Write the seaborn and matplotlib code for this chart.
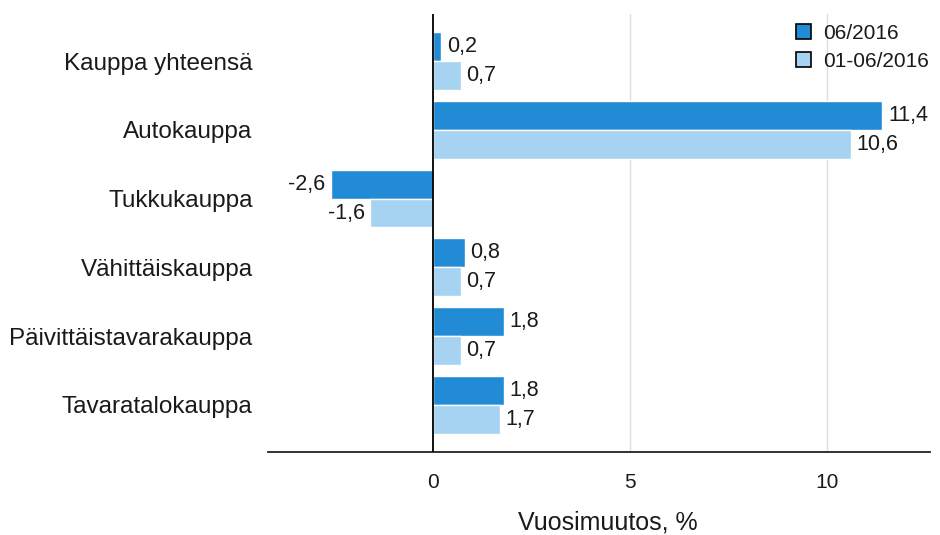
import matplotlib
matplotlib.use("Agg")
import matplotlib.pyplot as plt
import seaborn as sns
import pandas as pd
from matplotlib.patches import Patch

categories = ["Kauppa yhteensä", "Autokauppa", "Tukkukauppa", "Vähittäiskauppa",
              "Päivittäistavarakauppa", "Tavaratalokauppa"]
series_names = ["06/2016", "01-06/2016"]
values_month = [0.2, 11.4, -2.6, 0.8, 1.8, 1.8]
values_ytd = [0.7, 10.6, -1.6, 0.7, 0.7, 1.7]
colors = ["#218bd6", "#a6d3f1"]

sns.set_theme(style="white")
plt.rcParams["font.family"] = ["Liberation Sans", "DejaVu Sans"]

df = pd.DataFrame({
    "cat": categories * 2,
    "value": values_month + values_ytd,
    "series": [series_names[0]] * len(categories) + [series_names[1]] * len(categories),
})

fig = plt.figure(figsize=(9.4, 5.35), dpi=100)
ax = fig.add_axes([0.285, 0.155, 0.704, 0.819])

sns.barplot(data=df, y="cat", x="value", hue="series", palette=colors,
            orient="h", width=0.84, gap=0, ax=ax, legend=False, saturation=1)

txt = "#1a1a1a"
for cont, vals in zip(ax.containers, [values_month, values_ytd]):
    for bar, v in zip(cont, vals):
        lab = f"{v:.1f}".replace(".", ",")
        y = bar.get_y() + bar.get_height() / 2
        ax.annotate(lab, (v, y), xytext=(4 if v >= 0 else -4, 0), textcoords="offset points",
                    ha="left" if v >= 0 else "right", va="center", fontsize=15.5, color=txt)

ax.set_xlim(-4.2, 12.6)
ax.set_ylim(5.69, -0.69)
ax.set_xticks([0, 5, 10])
ax.set_xticklabels(["0", "5", "10"], fontsize=15)
ax.tick_params(axis="x", length=0, pad=15, colors=txt)
ax.tick_params(axis="y", length=0, pad=11, labelsize=17.5, colors=txt)
ax.set_ylabel("")
ax.set_xlabel("Vuosimuutos, %", fontsize=18, color=txt)
ax.xaxis.set_label_coords(0.514, -0.133)

for x in [5, 10]:
    ax.axvline(x, color="#dddddd", lw=1, zorder=0)
ax.axvline(0, color="black", lw=1.3, zorder=3)

for s in ["top", "right", "left"]:
    ax.spines[s].set_visible(False)
ax.spines["bottom"].set_color("#222222")
ax.spines["bottom"].set_linewidth(1.3)

handles = [Patch(facecolor=c, edgecolor="black", linewidth=1.2) for c in colors]
leg = ax.legend(handles, series_names, loc="upper left", frameon=False, fontsize=15,
                handlelength=0.72, handleheight=0.72, handletextpad=0.6, labelspacing=0.42,
                bbox_to_anchor=(796 / 940, 1 - 24 / 535), bbox_transform=fig.transFigure,
                borderaxespad=0, borderpad=0)
for t in leg.get_texts():
    t.set_color(txt)

fig.savefig("out.png", dpi=100)
